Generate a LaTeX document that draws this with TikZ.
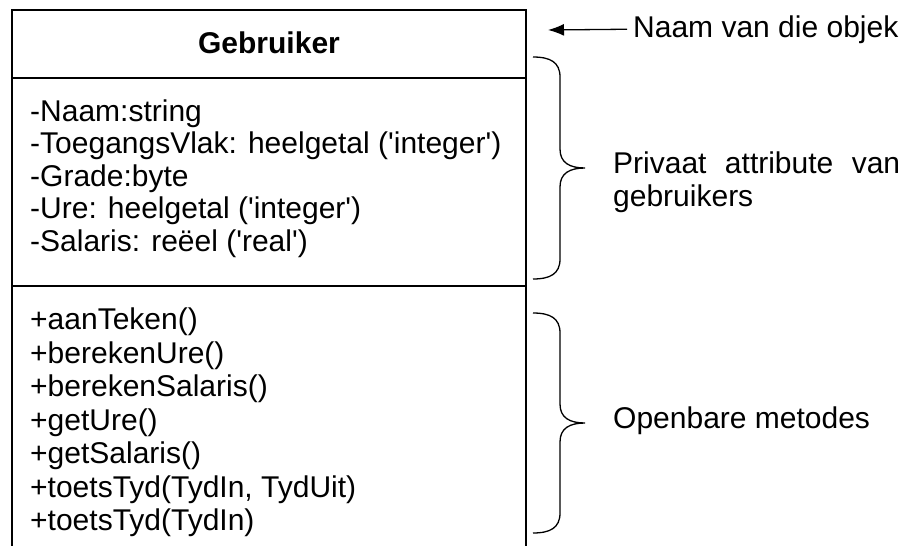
\documentclass[tikz,border=0pt]{standalone}
\usepackage{fontspec}
\newfontfamily\arial{Liberation Sans}
\usetikzlibrary{arrows.meta}

% krulhakie: x, bo, onder
\newcommand{\krulhakie}[3]{%
	\pgfmathsetmacro{\kmid}{(#2+#3)/2}
	\draw[hakie] (#1,#2) .. controls (#1+17,#2) and (#1+27,#2+5) .. (#1+27,#2+20)
		-- (#1+27,\kmid-19) .. controls (#1+27,\kmid-5) and (#1+37,\kmid) .. (#1+52,\kmid)
		.. controls (#1+37,\kmid) and (#1+27,\kmid+5) .. (#1+27,\kmid+19)
		-- (#1+27,#3-20) .. controls (#1+27,#3-5) and (#1+17,#3) .. (#1,#3);
}

\begin{document}
\begin{tikzpicture}[x=1pt, y=-1pt, font=\arial\fontsize{30}{34}\selectfont,
	teks/.style={anchor=base west, inner sep=0pt},
	hakie/.style={line width=1.3pt},
	kas/.style={line width=1.6pt}]
	\useasboundingbox (0,0) rectangle (906,546);

	%klas kas
	\draw[kas] (12,548) |- (526,10) -- (526,548);
	\draw[kas] (12,78) -- (526,78);
	\draw[kas] (12,286) -- (526,286);
	\node[teks, anchor=base] (titel) at (269,53) {\bfseries Gebruiker};

	%attribute
	\foreach \t [count=\i] in {-Naam:string, -ToegangsVlak: heelgetal ('integer'), -Grade:byte, -Ure: heelgetal ('integer'), -Salaris: reëel ('real')}{
		\node[teks] (a\i) at (30, 88.5+32.5*\i) {\t};
	}

	%metodes
	\foreach \t [count=\i] in {+aanTeken(), +berekenUre(), +berekenSalaris(), +getUre(), +getSalaris(), {+toetsTyd(TydIn, TydUit)}, +toetsTyd(TydIn)}{
		\node[teks] (m\i) at (30, 296+33.5*\i) {\t};
	}

	%hakies
	\krulhakie{533}{57}{279}
	\krulhakie{533}{313}{533}

	\node[teks] (privaat) at (613,173) {\makebox[287pt][s]{Privaat attribute van}};
	\node[teks] (gebr) at (613,206) {gebruikers};
	\node[teks] (openbaar) at (613,428) {Openbare metodes};

	\node[teks, inner xsep=6pt] (objek) at (627,37) {Naam van die objek};
	\coordinate (pyl) at (548,30);
	\draw[-{Latex[length=16pt,width=12pt]}, line width=1.3pt] (objek.west) -- (pyl);
\end{tikzpicture}
\end{document}
